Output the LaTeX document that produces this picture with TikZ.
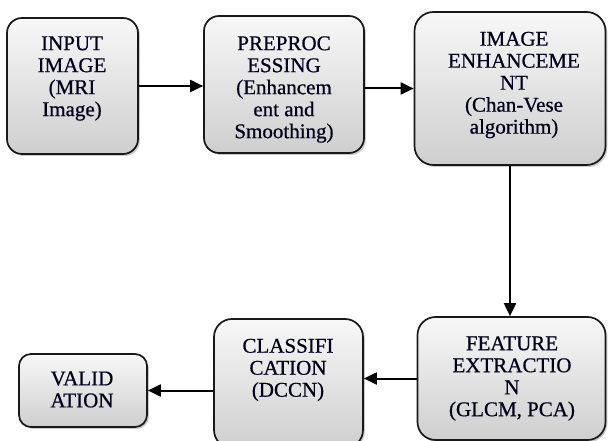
\documentclass[tikz,border=0pt]{standalone}
\usepackage{fontspec}
\setmainfont[FakeBold=0.6]{Liberation Serif}
\usetikzlibrary{arrows.meta,shadows,calc}
\begin{document}
\begin{tikzpicture}[x=1pt,y=-1pt,
  box/.style={draw=black!90, line width=1.7pt, rounded corners=15pt,
    top color=gray!6, bottom color=gray!38, inner sep=0pt,
    drop shadow={shadow xshift=1.8pt, shadow yshift=-2pt, opacity=0.35, fill=black!60}},
  txt/.style={align=center, inner sep=0pt, text=black!90!blue,
    font=\fontsize{21}{22}\selectfont},
  arr/.style={line width=2pt, -{Triangle[length=13pt,width=12pt]}}]
\useasboundingbox (0,0) rectangle (608,441);
\clip (0,0) rectangle (608,441);
% boxes
\node[box, minimum width=131pt, minimum height=136pt] (b1) at (72.5,86) {};
\node[box, minimum width=160pt, minimum height=137pt] (b2) at (284,84.5) {};
\node[box, rounded corners=19pt, minimum width=191pt, minimum height=153pt] (b3) at (510,88.5) {};
\node[box, rounded corners=18pt, minimum width=188pt, minimum height=123pt] (b4) at (511.5,378.5) {};
\node[box, rounded corners=18pt, minimum width=149pt, minimum height=129pt] (b5) at (288.5,383.5) {};
\node[box, rounded corners=12pt, minimum width=128pt, minimum height=73pt] (b6) at (83,390.5) {};
% texts
\node[txt] (t1) at (72,78.5) {INPUT\\IMAGE\\(MRI\\Image)};
\node[txt] (t2) at (284,89.5) {PREPROC\\ESSING\\(Enhancem\\ent and\\Smoothing)};
\node[txt] (t3) at (514,85) {IMAGE\\ENHANCEME\\NT\\(Chan-Vese\\algorithm)};
\node[txt] (t4) at (512,378.5) {FEATURE\\EXTRACTIO\\N\\(GLCM, PCA)};
\node[txt] (t5) at (288,370) {CLASSIFI\\CATION\\(DCCN)};
\node[txt] (t6) at (82,389.5) {VALID\\ATION};
% connectors
\draw[arr] (b1.east) -- (b1.east -| b2.west);
\draw[arr] (b3.west -| b2.east) -- (b3.west);
\draw[arr] (b3.south) -- (b3.south |- b4.north);
\draw[arr] (b4.west) -- (b4.west -| b5.east);
\draw[arr] (b6.east -| b5.west) -- (b6.east);
\end{tikzpicture}
\end{document}
